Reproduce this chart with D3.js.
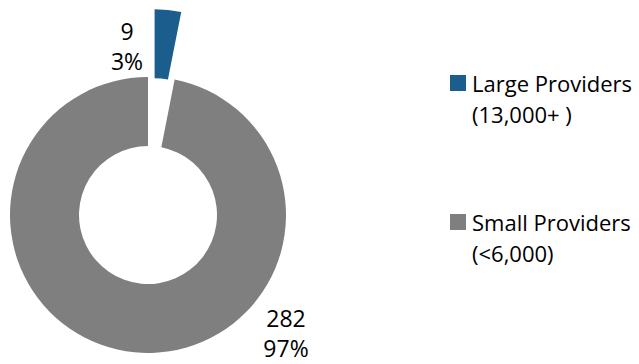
<!DOCTYPE html>
<html><head><meta charset="utf-8">
<script src="https://cdn.jsdelivr.net/npm/d3@7"></script>
<style>html,body{margin:0;padding:0;background:#fff;}svg{display:block;font-family:"Open Sans",sans-serif;}</style>
</head><body>
<svg id="chart" width="639" height="364"></svg>
<script>
const categories = ["Large Providers", "Small Providers"];
const legendLines = [["Large Providers", "(13,000+ )"], ["Small Providers", "(<6,000)"]];
const values = [9, 282];
const colors = ["#1B5E8E", "#7F7F7F"];
const explode = [68, 0];

const svg = d3.select("#chart");
const cx = 148, cy = 215, outerR = 138, innerR = 69;
const total = d3.sum(values);
const pie = d3.pie().sort(null).value(d => d)(values);
const arc = d3.arc().innerRadius(innerR).outerRadius(outerR);

const g = svg.append("g").attr("transform", `translate(${cx},${cy})`);
g.selectAll("path").data(pie).join("path")
  .attr("d", arc)
  .attr("fill", (d, i) => colors[i])
  .attr("transform", (d, i) => {
    const a = (d.startAngle + d.endAngle) / 2;
    return `translate(${explode[i] * Math.sin(a)},${-explode[i] * Math.cos(a)})`;
  });

// data labels
const labelPos = [[127 - cx, 40 - cy], [286 - cx, 327 - cy]];
const lab = g.selectAll("g.lab").data(pie).join("g").attr("class", "lab")
  .attr("transform", (d, i) => `translate(${labelPos[i][0]},${labelPos[i][1]})`);
lab.append("text").attr("text-anchor", "middle").attr("font-size", 23).attr("fill", "#000")
  .text(d => d.data);
lab.append("text").attr("text-anchor", "middle").attr("font-size", 23).attr("fill", "#000")
  .attr("y", 30).text(d => Math.round(d.data / total * 100) + "%");

// legend
const legY = [75, 214];
const leg = svg.selectAll("g.leg").data(categories).join("g").attr("class", "leg")
  .attr("transform", (d, i) => `translate(450,${legY[i]})`);
leg.append("rect").attr("width", 16).attr("height", 16).attr("fill", (d, i) => colors[i]);
leg.each(function(d, i) {
  const t = d3.select(this);
  legendLines[i].forEach((line, j) => {
    t.append("text").attr("x", 22).attr("y", 16.5 + j * 31).attr("font-size", 22)
      .attr("fill", "#000").text(line);
  });
});
</script>
</body></html>
